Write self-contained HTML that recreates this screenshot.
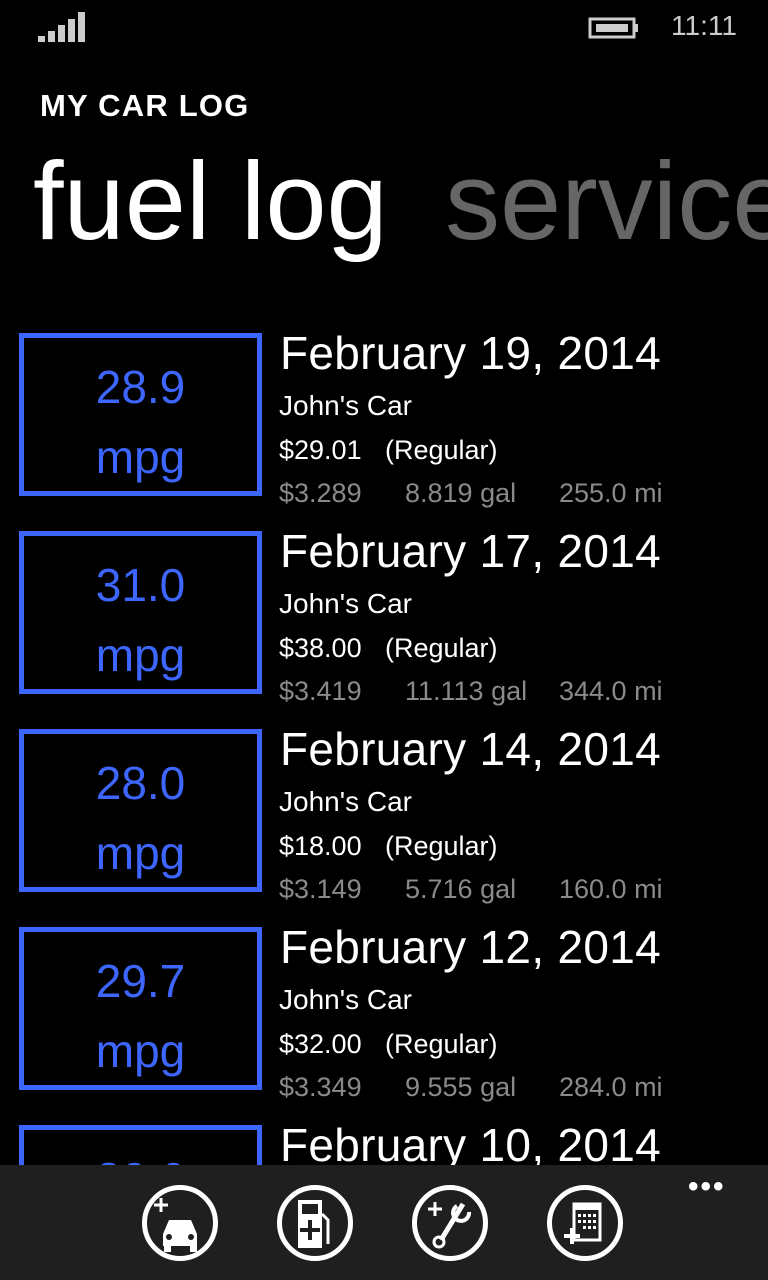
<!DOCTYPE html>
<html style="overflow:hidden;height:1280px"><head><meta charset="utf-8">
<style>
*{margin:0;padding:0;box-sizing:border-box}
html,body{overflow:hidden}
body{width:768px;height:1280px;background:#000;position:relative;font-family:"Liberation Sans",sans-serif;color:#fff}
.a{position:absolute;white-space:nowrap}
.box{position:absolute;left:19px;width:243px;height:163px;border:5px solid #3d66ff}
.v{position:absolute;left:0;width:100%;text-align:center;color:#3d66ff;font-size:46px}
.date{font-size:46px;left:280px;letter-spacing:0.3px}
.car{font-size:28px;left:279px}
.price{font-size:27px;left:279px}
.gray{font-size:27px;color:#8a8a8a;left:279px}
.ic{position:absolute;top:1185px;width:76px;height:76px;border:5px solid #fff;border-radius:50%}
</style></head><body>
<div class="a" style="left:38px;top:12px;width:48px;height:30px">
<svg width="48" height="30"><rect x="0" y="24" width="7" height="6" fill="#ccc"/><rect x="10" y="19" width="7" height="11" fill="#ccc"/><rect x="20" y="13" width="7" height="17" fill="#ccc"/><rect x="30" y="7" width="7" height="23" fill="#ccc"/><rect x="40" y="0" width="7" height="30" fill="#ccc"/></svg></div>
<div class="a" style="left:588px;top:15px">
<svg width="52" height="26"><rect x="2" y="4" width="44" height="18" fill="none" stroke="#ccc" stroke-width="3"/><rect x="46" y="9" width="4" height="8" fill="#ccc"/><rect x="8" y="9" width="32" height="8" fill="#ccc"/></svg></div>
<div class="a" style="left:671px;top:10px;font-size:28px;color:#ccc">11:11</div>
<div class="a" style="left:40px;top:88px;font-size:31px;font-weight:bold;letter-spacing:1.2px">MY CAR LOG</div>
<div class="a" style="left:33px;top:138px;font-size:110px">fuel log</div>
<div class="a" style="left:445px;top:138px;font-size:110px;color:#666">service</div>

<div id="list"></div>

<div class="a" style="left:0;top:1165px;width:768px;height:115px;background:#1f1f1f"></div>
<div class="ic" style="left:142px">
<svg width="66" height="66" style="position:absolute;left:0;top:0"><path d="M14 8v14M7 15h14" stroke="#fff" stroke-width="3"/><path d="M16 44l6-14h22l6 14v12H16z" fill="#fff"/><rect x="17" y="54" width="7" height="8" fill="#fff"/><rect x="43" y="54" width="7" height="8" fill="#fff"/><circle cx="22" cy="47" r="3" fill="#1f1f1f"/><circle cx="44" cy="47" r="3" fill="#1f1f1f"/></svg></div>
<div class="ic" style="left:277px">
<svg width="66" height="66" style="position:absolute;left:0;top:0"><rect x="16" y="10" width="24" height="48" fill="#fff"/><rect x="20" y="14" width="16" height="10" fill="#1f1f1f"/><path d="M28 30v20M18 40h20" stroke="#1f1f1f" stroke-width="4"/><path d="M40 24l6 6v24" stroke="#fff" stroke-width="3" fill="none"/></svg></div>
<div class="ic" style="left:412px">
<svg width="66" height="66" style="position:absolute;left:0;top:0"><path d="M18 12v14M11 19h14" stroke="#fff" stroke-width="3"/><path d="M46 14l-22 36" stroke="#fff" stroke-width="5"/><circle cx="22" cy="52" r="5" fill="none" stroke="#fff" stroke-width="3"/><path d="M40 16a8 8 0 1 0 12 6" stroke="#fff" stroke-width="4" fill="none"/></svg></div>
<div class="ic" style="left:547px">
<svg width="66" height="66" style="position:absolute;left:0;top:0"><rect x="22" y="14" width="26" height="36" fill="none" stroke="#fff" stroke-width="3"/><rect x="22" y="14" width="26" height="6" fill="#fff"/><g fill="#fff"><rect x="26" y="24" width="3" height="3"/><rect x="31" y="24" width="3" height="3"/><rect x="36" y="24" width="3" height="3"/><rect x="41" y="24" width="3" height="3"/><rect x="26" y="30" width="3" height="3"/><rect x="31" y="30" width="3" height="3"/><rect x="36" y="30" width="3" height="3"/><rect x="41" y="30" width="3" height="3"/><rect x="31" y="36" width="3" height="3"/><rect x="36" y="36" width="3" height="3"/><rect x="41" y="36" width="3" height="3"/></g><path d="M20 38v16M12 46h16" stroke="#fff" stroke-width="4"/></svg></div>
<div class="a" style="left:688px;top:1170px;font-size:30px;letter-spacing:2px;font-weight:bold">•••</div>

<script>
const mpg=["28.9","31.0","28.0","29.7","30.6"];
const dates=["February 19, 2014","February 17, 2014","February 14, 2014","February 12, 2014","February 10, 2014"];
const costs=["$29.01","$38.00","$18.00","$32.00","$30.00"];
const ppg=["$3.289","$3.419","$3.149","$3.349","$3.299"];
const gals=["8.819 gal","11.113 gal","5.716 gal","9.555 gal","9.000 gal"];
const miles=["255.0 mi","344.0 mi","160.0 mi","284.0 mi","276.0 mi"];
const list=document.getElementById('list');
function add(parent,cls,style,text,name){const d=document.createElement('div');d.className=cls;d.setAttribute('style',style);d.textContent=text;


parent.appendChild(d);return d;}
for(let i=0;i<mpg.length;i++){
 const y=333+i*198;
 const b=document.createElement('div');b.className='box';b.style.top=y+'px';
 
 
 list.appendChild(b);
 add(b,'v','top:22px',mpg[i],'mpg-value');
 add(b,'v','top:92px',"mpg",'mpg-unit');
 add(list,'a date','top:'+(y-7)+'px',dates[i],'entry-date');
 add(list,'a car','top:'+(y+57)+'px',"John's Car",'car-name');
 const p=add(list,'a price','top:'+(y+102)+'px','','entry-cost');
 p.innerHTML='<span style="display:inline-block;width:106px">'+costs[i]+'</span>(Regular)';
 const g=add(list,'a gray','top:'+(y+145)+'px','','entry-details');
 g.innerHTML='<span style="display:inline-block;width:126px">'+ppg[i]+'</span><span style="display:inline-block;width:154px">'+gals[i]+'</span>'+miles[i];
}
</script>
</body></html>
